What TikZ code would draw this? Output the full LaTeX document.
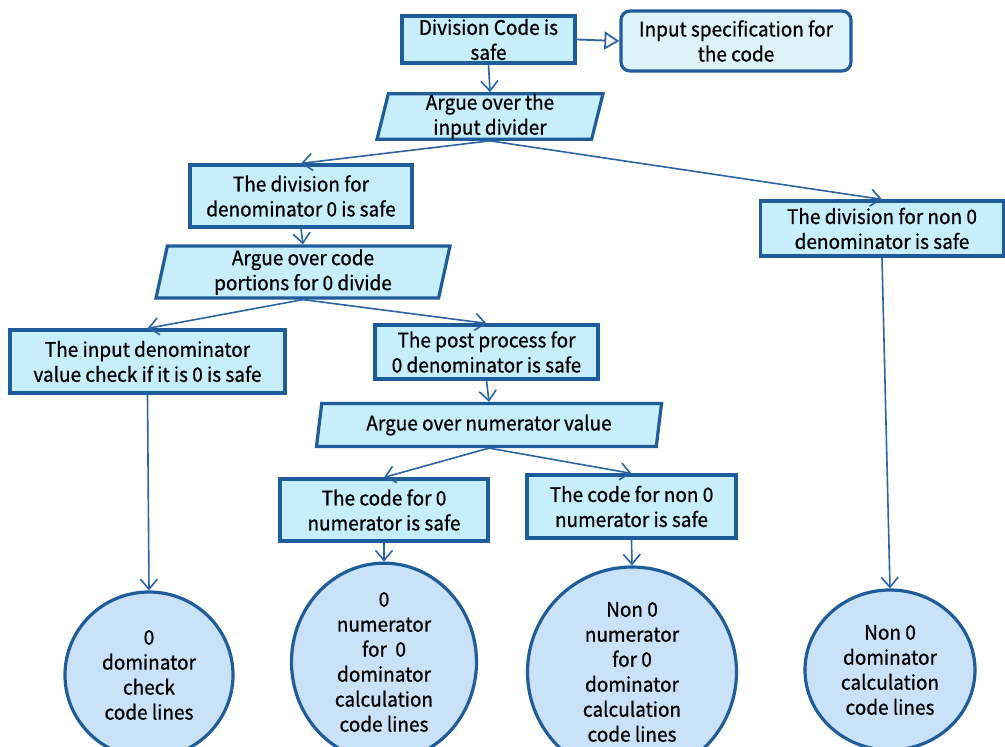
\documentclass[tikz,border=0pt]{standalone}
\usepackage{fontspec}
\setmainfont{Noto Sans CJK JP}[FakeStretch=0.95,FakeBold=0.8]
\usetikzlibrary{arrows.meta,shapes.geometric}
\definecolor{edge}{HTML}{1E5C9B}
\definecolor{link}{HTML}{2A64A3}
\definecolor{boxfill}{HTML}{C6EEFB}
\definecolor{specfill}{HTML}{DDF3F8}
\definecolor{leaffill}{HTML}{C9E2F7}
\tikzset{
  base/.style={draw=edge, line width=3.2pt, align=center, inner sep=0pt,
    font=\fontsize{20}{25}\selectfont},
  goal/.style={base, rectangle, fill=boxfill},
  ctx/.style={base, rectangle, rounded corners=9pt, fill=specfill},
  strat/.style={base, trapezium, trapezium left angle=76, trapezium right angle=104,
    trapezium stretches body=true, fill=boxfill},
  sol/.style={base, ellipse, fill=leaffill},
  arr/.style={draw=link, line width=1.6pt, -{Straight Barb[length=10pt,width=17pt,line width=1.6pt]}},
  ctxarr/.style={draw=link, line width=1.8pt, -{Triangle[open,length=15pt,width=18pt,line width=1.8pt,fill=white]}}
}
\begin{document}
\begin{tikzpicture}[x=1pt,y=-1pt]
\useasboundingbox (0,0) rectangle (1005,747);
\clip (0,0) rectangle (1005,747);

% goals
\node[goal, minimum width=173pt, minimum height=47pt] (top) at (488.5,39.5) {Division Code is\\safe};
\node[ctx, minimum width=230pt, minimum height=60pt] (spec) at (736,41) {Input specification for\\the code};
\node[strat, minimum width=226pt, minimum height=43pt] (s1) at (490,116.5) {Argue over the\\input divider};
\node[goal, minimum width=222pt, minimum height=62pt] (zero) at (301,196) {The division for\\denominator 0 is safe};
\node[goal, minimum width=243pt, minimum height=55pt] (nonzero) at (882,228.5) {The division for non 0\\denominator is safe};
\node[strat, minimum width=294pt, minimum height=52pt] (s2) at (303,272) {Argue over code\\portions for 0 divide};
\node[goal, minimum width=275pt, minimum height=63pt] (check) at (147.5,361.5) {The input denominator\\value check if it is 0 is safe};
\node[goal, minimum width=223pt, minimum height=54pt] (post) at (486.5,352) {The post process for\\0 denominator is safe};
\node[strat, minimum width=345pt, minimum height=43pt] (s3) at (489,425) {Argue over numerator value};
\node[goal, minimum width=208pt, minimum height=62pt] (numzero) at (384,510) {The code for 0\\numerator is safe};
\node[goal, minimum width=209pt, minimum height=63pt] (numnon) at (631.5,506.5) {The code for non 0\\numerator is safe};

% solutions
\node[sol, minimum width=168pt, minimum height=166pt] (e1) at (149,675) {0\\dominator\\check\\code lines};
\node[sol, minimum width=185pt, minimum height=178pt] (e2) at (384,662) {0\\numerator\\for\ \ 0\\dominator\\calculation\\code lines};
\node[sol, minimum width=209pt, minimum height=210pt] (e3) at (632,672) {Non 0\\numerator\\for 0\\dominator\\calculation\\code lines};
\node[sol, minimum width=170pt, minimum height=160pt] (e4) at (890,670) {Non 0\\dominator\\calculation\\code lines};

% connectors
\draw[ctxarr] (top.east) -- (spec.west);
\draw[arr] (top.south) -- (s1.north);
\draw[arr] (s1.south) -- (zero.north);
\draw[arr] (s1.south) -- (nonzero.north);
\draw[arr] (zero.south) -- (s2.north);
\draw[arr] (s2.south) -- (check.north);
\draw[arr] (s2.south) -- (post.north);
\draw[arr] (post.south) -- (s3.north);
\draw[arr] (s3.south) -- (numzero.north);
\draw[arr] (s3.south) -- (numnon.north);
\draw[arr] (check.south) -- (e1.north);
\draw[arr] (numzero.south) -- (e2.north);
\draw[arr] (numnon.south) -- (e3.north);
\draw[arr] (nonzero.south) -- (e4.north);
\end{tikzpicture}
\end{document}
